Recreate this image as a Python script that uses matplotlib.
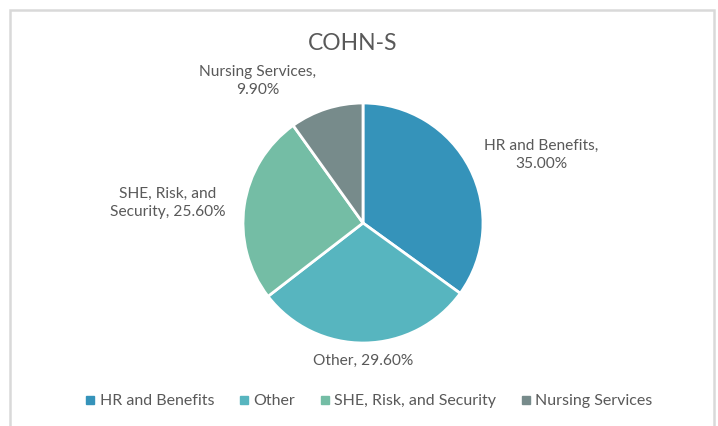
import matplotlib
matplotlib.use("Agg")
import matplotlib.pyplot as plt
from matplotlib.patches import Rectangle
from matplotlib.lines import Line2D

categories = ["HR and Benefits", "Other", "SHE, Risk, and Security", "Nursing Services"]
values = [35.0, 29.6, 25.6, 9.9]
label_texts = ["HR and Benefits,\n35.00%", "Other, 29.60%", "SHE, Risk, and\nSecurity, 25.60%", "Nursing Services,\n9.90%"]
colors = ["#3593BA", "#57B5BF", "#74BDA5", "#778B8B"]
title = "COHN-S"

W, H = 718, 426
fig = plt.figure(figsize=(W / 100, H / 100), dpi=100)
plt.rcParams['font.family'] = ['Lato', 'DejaVu Sans']
txtc = "#595959"

# chart border
fig.patches.append(Rectangle((10 / W, -0.05), (714 - 10) / W, 1.05 - 10 / H, transform=fig.transFigure,
                             fill=False, edgecolor="#D9D9D9", linewidth=1.8))

cx, cy, r = 363, 223, 120
ax = fig.add_axes([(cx - r) / W, 1 - (cy + r) / H, 2 * r / W, 2 * r / H])
wedges, _ = ax.pie(values, colors=colors, startangle=90, counterclock=False,
                   wedgeprops=dict(edgecolor="white", linewidth=2), radius=1)
ax.set_xlim(-1, 1)
ax.set_ylim(-1, 1)
ax.set_aspect("auto")
ax.axis("off")

# label positions (pixel layout)
label_pos = [(541, 155), (363, 361), (168, 203), (258, 81)]
for txt, (px, py) in zip(label_texts, label_pos):
    fig.text(px / W, 1 - py / H, txt, ha="center", va="center", fontsize=11.2,
             color=txtc, linespacing=1.3)

fig.text(353 / W, 1 - 43 / H, title, ha="center", va="center", fontsize=16.5, color=txtc)

handles = [Line2D([], [], marker="s", linestyle="none", markersize=5.5, markerfacecolor=c,
                  markeredgecolor=c) for c in colors]
fig.legend(handles, categories, loc="center", bbox_to_anchor=(367.5 / W, 1 - 401 / H), ncol=4,
           frameon=False, fontsize=11.5, labelcolor=txtc, handletextpad=0.1,
           columnspacing=1.35, handlelength=1.0, borderaxespad=0)

fig.savefig("out.png", dpi=100)
